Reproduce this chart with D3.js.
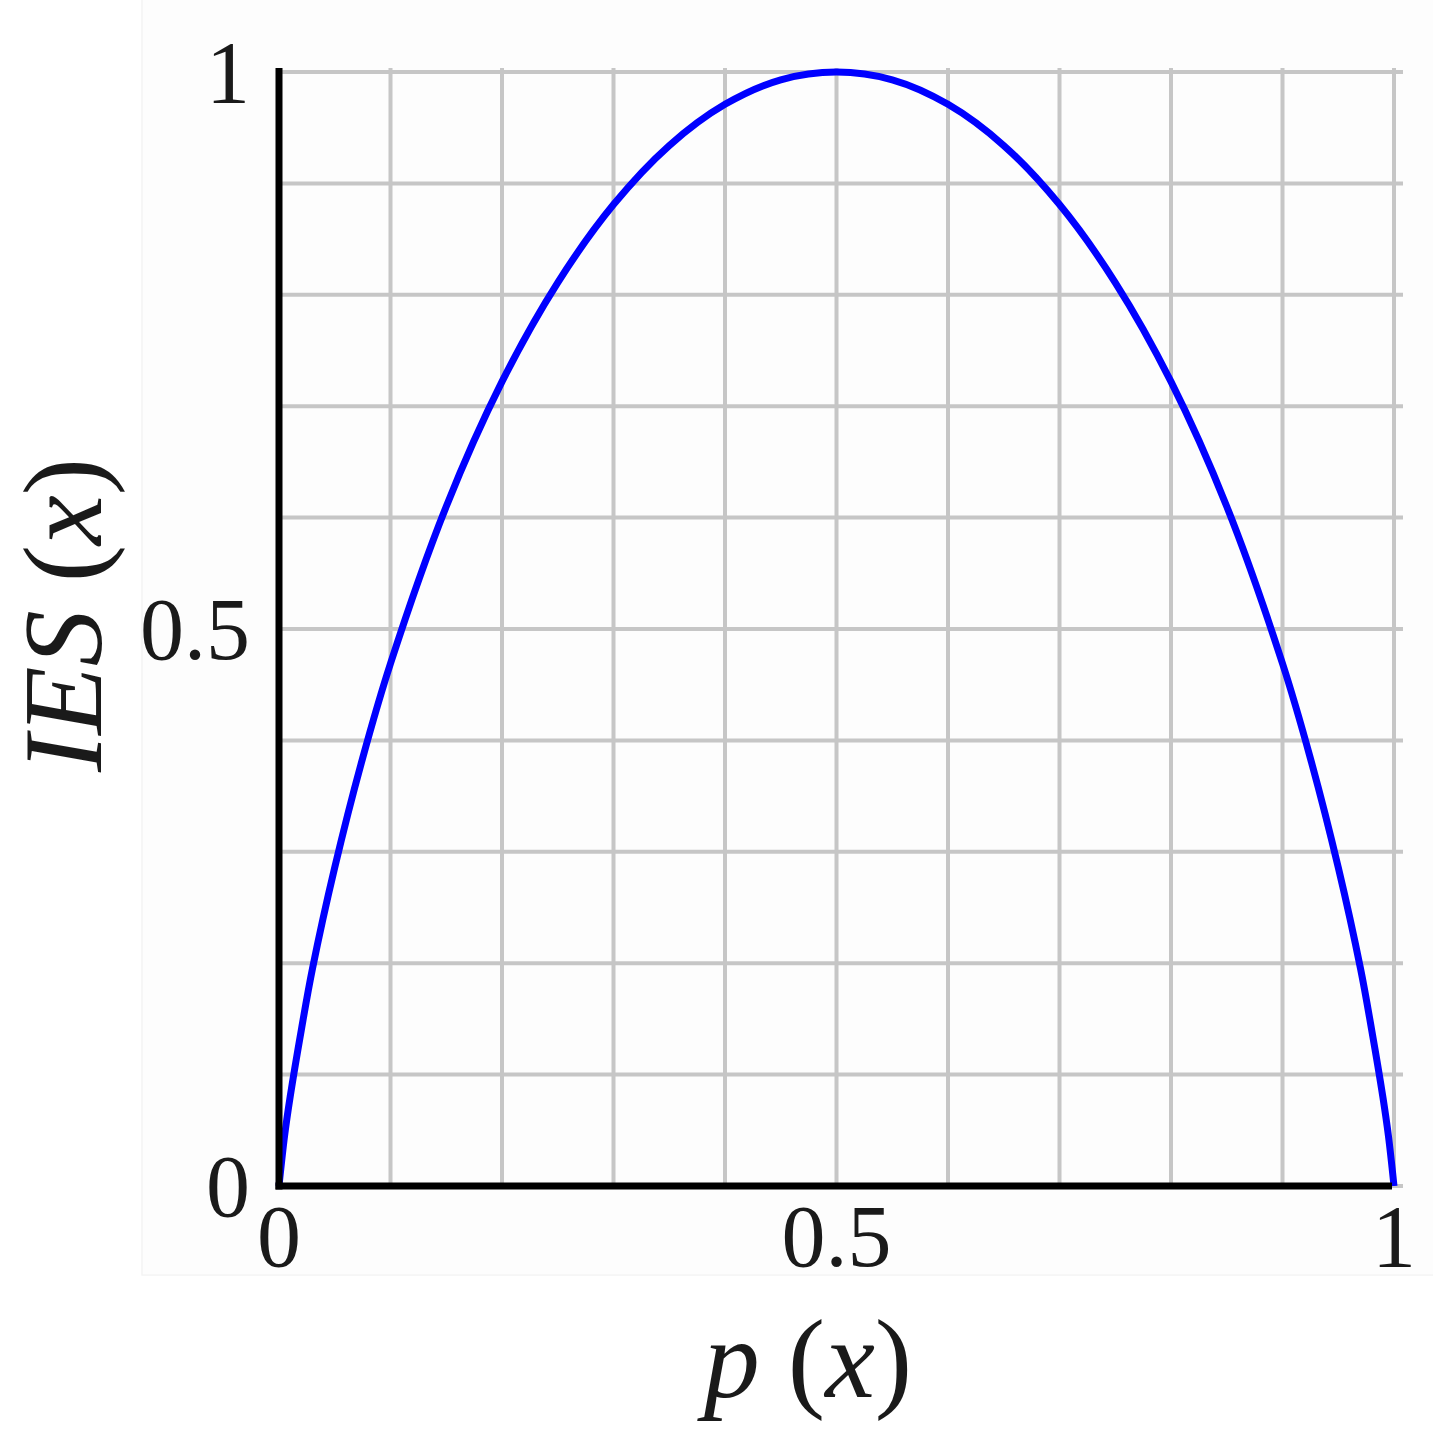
<!DOCTYPE html>
<html>
<head>
<meta charset="utf-8">
<script src="https://cdn.jsdelivr.net/npm/d3@7"></script>
<style>
  html, body { margin: 0; padding: 0; background: #fff; }
  svg { display: block; }
  .tick-label { font-family: "Liberation Serif", "DejaVu Serif", serif; font-size: 88px; fill: #1a1a1a; }
  .axis-title { font-family: "Liberation Serif", "DejaVu Serif", serif; font-size: 112px; fill: #1a1a1a; }
</style>
</head>
<body>
<div id="chart"></div>
<script>
// values (p(x) -> IES(x))
const pValues = [0, 0.005, 0.01, 0.02, 0.03, 0.05, 0.075, 0.1, 0.15, 0.2, 0.25, 0.3, 0.35, 0.4, 0.45, 0.5,
                 0.55, 0.6, 0.65, 0.7, 0.75, 0.8, 0.85, 0.9, 0.925, 0.95, 0.97, 0.98, 0.99, 0.995, 1];
const iesValues = [0, 0.045, 0.08, 0.14, 0.195, 0.286, 0.384, 0.469, 0.61, 0.722, 0.811, 0.881, 0.934, 0.971, 0.993, 1.0,
                   0.993, 0.971, 0.934, 0.881, 0.811, 0.722, 0.61, 0.469, 0.384, 0.286, 0.195, 0.14, 0.08, 0.045, 0];

const gridTicks = [0, 0.1, 0.2, 0.3, 0.4, 0.5, 0.6, 0.7, 0.8, 0.9, 1];
const xTickLabels = [0, 0.5, 1];
const yTickLabels = [0, 0.5, 1];

const width = 1433, height = 1455;

const svg = d3.select("#chart").append("svg")
    .attr("width", width)
    .attr("height", height);

// faint panel behind the plot, as in the source image
svg.append("rect")
    .attr("x", 142).attr("y", -2)
    .attr("width", width).attr("height", 1277)
    .attr("fill", "#fdfdfd")
    .attr("stroke", "#f4f4f4")
    .attr("stroke-width", 1.5);

const x = d3.scaleLinear().domain([0, 1]).range([279, 1394]);
const y = d3.scaleLinear().domain([0, 1]).range([1186, 72]);

// grid
const grid = svg.append("g");
grid.selectAll(".vgrid")
    .data(gridTicks)
    .join("line")
    .attr("x1", d => x(d)).attr("x2", d => x(d))
    .attr("y1", y(1) - 4).attr("y2", y(0))
    .attr("stroke", "#c6c6c6")
    .attr("stroke-width", 4);
grid.selectAll(".hgrid")
    .data(gridTicks)
    .join("line")
    .attr("x1", x(0)).attr("x2", x(1) + 9)
    .attr("y1", d => y(d)).attr("y2", d => y(d))
    .attr("stroke", "#c6c6c6")
    .attr("stroke-width", 4);

// curve
const data = pValues.map((p, i) => ({ p: p, v: iesValues[i] }));
const line = d3.line()
    .x(d => x(d.p))
    .y(d => y(d.v))
    .curve(d3.curveCatmullRom.alpha(0.5));

svg.append("path")
    .datum(data)
    .attr("d", line)
    .attr("fill", "none")
    .attr("stroke", "#0000ff")
    .attr("stroke-width", 7);

// axes (thick black lines, labels drawn separately)
svg.append("line")
    .attr("x1", x(0)).attr("x2", x(0))
    .attr("y1", y(1) - 4).attr("y2", y(0) + 3.5)
    .attr("stroke", "#000")
    .attr("stroke-width", 7);
svg.append("line")
    .attr("x1", x(0) - 3.5).attr("x2", x(1) - 2)
    .attr("y1", y(0)).attr("y2", y(0))
    .attr("stroke", "#000")
    .attr("stroke-width", 7);

svg.selectAll(".xlab")
    .data(xTickLabels)
    .join("text")
    .attr("class", "tick-label")
    .attr("x", d => x(d))
    .attr("y", y(0) + 80)
    .attr("text-anchor", "middle")
    .text(d => d3.format("")(d));

svg.selectAll(".ylab")
    .data(yTickLabels)
    .join("text")
    .attr("class", "tick-label")
    .attr("x", 250)
    .attr("y", d => y(d) + 30)
    .attr("text-anchor", "end")
    .text(d => d3.format("")(d));

// axis titles
const xt = svg.append("text")
    .attr("class", "axis-title")
    .attr("x", 808)
    .attr("y", 1397)
    .attr("text-anchor", "middle");
xt.append("tspan").attr("font-style", "italic").text("p");
xt.append("tspan").text(" (");
xt.append("tspan").attr("font-style", "italic").text("x");
xt.append("tspan").text(")");

const yt = svg.append("text")
    .attr("class", "axis-title")
    .attr("transform", "translate(101,615) rotate(-90)")
    .attr("text-anchor", "middle");
yt.append("tspan").attr("font-style", "italic").text("IES");
yt.append("tspan").text(" (");
yt.append("tspan").attr("font-style", "italic").text("x");
yt.append("tspan").text(")");
</script>
</body>
</html>
